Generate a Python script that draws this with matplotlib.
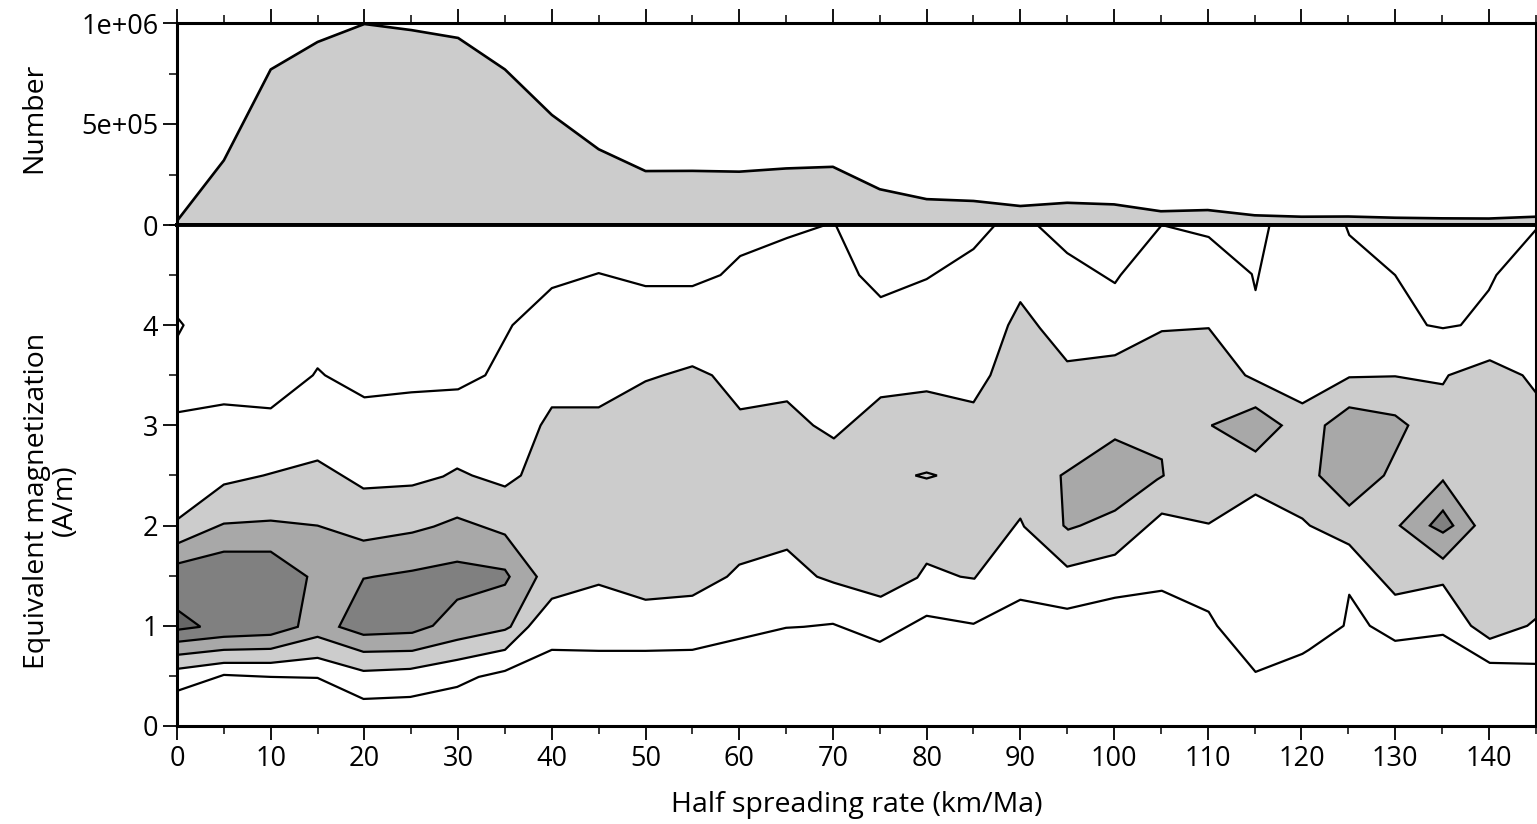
import matplotlib.pyplot as plt
from matplotlib.ticker import MultipleLocator

plt.rcParams['font.family'] = ['Open Sans', 'DejaVu Sans']

# top panel: number of samples per spreading-rate bin
rate = [0, 5, 10, 15, 20, 25, 30, 35, 40, 45, 50, 55, 60, 65, 70, 75, 80, 85,
        90, 95, 100, 105, 110, 115, 120, 125, 130, 135, 140, 145]
number = [2e4, 3.2e5, 7.7e5, 9.06e5, 9.95e5, 9.65e5, 9.26e5, 7.7e5, 5.45e5, 3.75e5,
          2.67e5, 2.68e5, 2.64e5, 2.8e5, 2.88e5, 1.77e5, 1.28e5, 1.19e5, 0.94e5, 1.1e5,
          1.02e5, 0.68e5, 0.74e5, 0.48e5, 0.41e5, 0.42e5, 0.36e5, 0.33e5, 0.32e5, 0.41e5]

# outermost contour (line only)
c1_up_x = [0, 5, 10, 14.5, 15, 15.8, 20, 25, 30, 32.9, 35.8, 40, 45, 50, 55, 58, 60.1, 65.1,
           69.2, 70.3, 72.8, 75.1, 80, 85, 87.3, 91.8, 95, 100.1, 100.7, 105.1, 110.1, 114.7,
           115.1, 116.6, 124.7, 125.1, 130, 133.4, 135.1, 137, 140, 140.8, 145]
c1_up_y = [3.13, 3.21, 3.17, 3.50, 3.57, 3.50, 3.28, 3.33, 3.36, 3.50, 4.0, 4.37, 4.52, 4.39,
           4.39, 4.50, 4.69, 4.87, 5.0, 5.0, 4.50, 4.28, 4.46, 4.76, 5.0, 5.0, 4.72, 4.42, 4.50,
           5.0, 4.88, 4.51, 4.35, 5.0, 5.0, 4.9, 4.50, 4.0, 3.97, 4.0, 4.35, 4.5, 4.95]
c1_lo_x = [0, 5, 10, 15, 19.9, 24.9, 29.9, 32.2, 35, 40, 45, 50, 55, 60, 65, 66.9, 70, 75, 80,
           85, 90, 95, 100.1, 105.1, 110.1, 111, 115.1, 120.1, 120.8, 124.5, 125.1, 127.3, 130,
           135.1, 140.1, 145]
c1_lo_y = [0.35, 0.51, 0.49, 0.48, 0.27, 0.29, 0.39, 0.49, 0.55, 0.76, 0.75, 0.75, 0.76, 0.87,
           0.98, 0.99, 1.02, 0.84, 1.10, 1.02, 1.26, 1.17, 1.28, 1.35, 1.14, 1.0, 0.54, 0.72,
           0.76, 1.0, 1.31, 1.0, 0.85, 0.91, 0.63, 0.62]
c1_edge_x = [0, 0.7, 0]
c1_edge_y = [4.08, 4.0, 3.88]

# second contour (light grey band)
c2_up_x = [0, 5, 9.2, 15, 19.9, 25.1, 28.4, 29.9, 31.5, 35, 36.7, 38.8, 40, 45, 50, 51.9, 55,
           57.1, 60.1, 65.1, 67.9, 70.1, 75.1, 80, 85, 86.8, 88.7, 90, 92.1, 95, 100.1, 105.1,
           110.1, 114, 120.1, 125.1, 130, 135.1, 135.7, 140.1, 143.6, 145]
c2_up_y = [2.06, 2.41, 2.50, 2.65, 2.37, 2.40, 2.49, 2.57, 2.50, 2.39, 2.50, 3.0, 3.18, 3.18,
           3.44, 3.50, 3.59, 3.50, 3.16, 3.24, 3.0, 2.87, 3.28, 3.34, 3.23, 3.50, 4.0, 4.23,
           3.97, 3.64, 3.70, 3.94, 3.97, 3.50, 3.22, 3.48, 3.49, 3.41, 3.50, 3.65, 3.50, 3.33]
c2_lo_x = [0, 5, 10, 15, 19.9, 24.9, 29.9, 35, 37.5, 40, 45, 50, 55, 58.7, 60, 65.1, 68.3,
           70.1, 75.1, 79, 80, 83.6, 85.1, 90, 90.4, 95, 100.1, 105.1, 110.1, 115.1, 120.1,
           120.9, 125.1, 130, 135.1, 138.1, 140.1, 144.1, 145]
c2_lo_y = [0.57, 0.63, 0.63, 0.68, 0.55, 0.57, 0.66, 0.76, 0.99, 1.27, 1.41, 1.26, 1.30, 1.49,
           1.61, 1.76, 1.49, 1.43, 1.29, 1.48, 1.62, 1.49, 1.47, 2.07, 1.99, 1.59, 1.71, 2.12,
           2.02, 2.31, 2.07, 2.0, 1.81, 1.31, 1.41, 1.0, 0.87, 1.0, 1.07]
c2_dot_x = [78.8, 80, 81.1, 80]
c2_dot_y = [2.5, 2.53, 2.5, 2.47]

# third contour (medium grey patches)
c3_left_x = [0, 5, 10, 15, 19.9, 25.1, 27.4, 29.9, 35, 38.4, 35.6, 35, 29.9, 25.1, 19.9, 15,
             10, 5, 0]
c3_left_y = [1.82, 2.02, 2.05, 2.0, 1.85, 1.93, 1.99, 2.08, 1.91, 1.49, 0.99, 0.96, 0.86,
             0.75, 0.74, 0.89, 0.77, 0.76, 0.71]
c3_a_x = [94.3, 100.1, 105.1, 105.3, 104.6, 100.1, 96.4, 95.1, 94.6]
c3_a_y = [2.50, 2.86, 2.66, 2.50, 2.46, 2.15, 2.0, 1.96, 2.0]
c3_b_x = [110.4, 115.1, 117.9, 115.1]
c3_b_y = [3.0, 3.18, 3.0, 2.74]
c3_c_x = [122.5, 125.1, 130, 131.4, 128.8, 125.1, 121.9]
c3_c_y = [3.0, 3.18, 3.10, 3.0, 2.50, 2.20, 2.50]
c3_d_x = [135.1, 138.5, 135.1, 130.5]
c3_d_y = [2.45, 2.0, 1.67, 2.0]

# fourth contour (dark grey patches)
c4_a_x = [0, 5, 10, 13.9, 12.9, 10, 5, 0]
c4_a_y = [1.62, 1.74, 1.74, 1.49, 0.99, 0.91, 0.89, 0.84]
c4_b_x = [17.3, 19.9, 21, 25.1, 29.9, 35, 35.5, 35, 29.9, 27.3, 25.1, 19.9]
c4_b_y = [0.99, 1.47, 1.49, 1.55, 1.64, 1.56, 1.49, 1.41, 1.26, 1.0, 0.93, 0.91]
c4_c_x = [135.1, 136.2, 135.1, 133.7]
c4_c_y = [2.15, 2.0, 1.93, 2.0]

# fifth contour (darkest)
c5_x = [0, 2.5, 0]
c5_y = [1.16, 0.99, 0.96]

fig = plt.figure(figsize=(15.37, 8.24), dpi=100)
ax_top = fig.add_axes([177 / 1537, 1 - 225 / 824, 1358.7 / 1537, 202 / 824])
ax = fig.add_axes([177 / 1537, 1 - 726 / 824, 1358.7 / 1537, 501 / 824])

lw = 1.6
ax_top.fill_between(rate, number, 0, color='#cccccc', lw=0)
ax_top.plot(rate, number, color='black', lw=lw + 0.3)
ax_top.set_xlim(0, 145)
ax_top.set_ylim(0, 1e6)
ax_top.set_yticks([0, 5e5, 1e6])
ax_top.set_yticklabels(['0', '5e+05', '1e+06'])
ax_top.yaxis.set_minor_locator(MultipleLocator(2.5e5))
ax_top.xaxis.set_major_locator(MultipleLocator(10))
ax_top.xaxis.set_minor_locator(MultipleLocator(5))
ax_top.tick_params(axis='x', which='both', bottom=False, top=True, labelbottom=False,
                   direction='out')
ax_top.set_ylabel('Number', fontsize=20.5)
ax_top.yaxis.set_label_coords(-0.095, 0.53)

# filled contour bands
ax.fill(c2_up_x + c2_lo_x[::-1], c2_up_y + c2_lo_y[::-1], color='#cccccc', lw=0)
ax.plot(c2_up_x, c2_up_y, color='black', lw=lw)
ax.plot(c2_lo_x, c2_lo_y, color='black', lw=lw)
ax.fill(c2_dot_x, c2_dot_y, facecolor='#cccccc', edgecolor='black', lw=lw)
for px, py in [(c3_left_x, c3_left_y), (c3_a_x, c3_a_y), (c3_b_x, c3_b_y),
               (c3_c_x, c3_c_y), (c3_d_x, c3_d_y)]:
    ax.fill(px, py, facecolor='#a8a8a8', edgecolor='black', lw=lw)
for px, py in [(c4_a_x, c4_a_y), (c4_b_x, c4_b_y), (c4_c_x, c4_c_y)]:
    ax.fill(px, py, facecolor='#808080', edgecolor='black', lw=lw)
ax.fill(c5_x, c5_y, facecolor='#666666', edgecolor='black', lw=lw)

ax.plot(c1_up_x, c1_up_y, color='black', lw=lw)
ax.plot(c1_lo_x, c1_lo_y, color='black', lw=lw)
ax.plot(c1_edge_x, c1_edge_y, color='black', lw=lw)

ax.set_xlim(0, 145)
ax.set_ylim(0, 5)
ax.set_yticks([0, 1, 2, 3, 4])
ax.yaxis.set_minor_locator(MultipleLocator(0.5))
ax.xaxis.set_major_locator(MultipleLocator(10))
ax.xaxis.set_minor_locator(MultipleLocator(5))
ax.set_xlabel('Half spreading rate (km/Ma)', fontsize=20.5)
ax.xaxis.set_label_coords(0.5, -0.13)
ax.set_ylabel('Equivalent magnetization\n(A/m)', fontsize=20.5, linespacing=1.0)
ax.yaxis.set_label_coords(-0.072, 0.45)

for a in (ax_top, ax):
    for s in a.spines.values():
        s.set_linewidth(2.2)
        s.set_zorder(5)
    a.tick_params(which='major', length=10, width=1.3, labelsize=19.5, direction='out')
    a.tick_params(which='minor', length=6, width=1.1, direction='out')
ax.spines['top'].set_linewidth(2.8)
ax_top.spines['bottom'].set_linewidth(2.8)

fig.savefig('out.png', dpi=100)
